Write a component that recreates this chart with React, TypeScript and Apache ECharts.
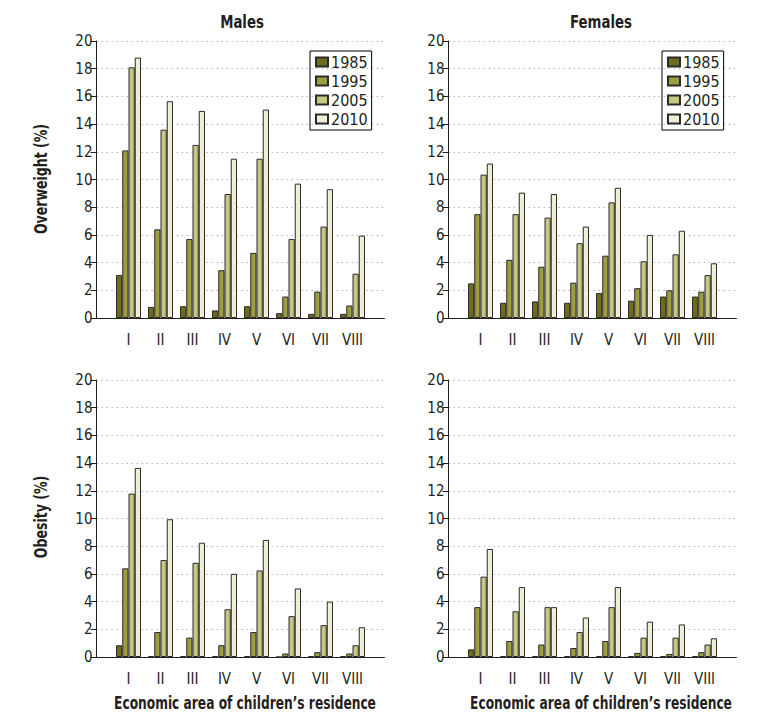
import React, { useEffect, useRef } from "react";
import * as echarts from "echarts";

const CATEGORIES = ["I", "II", "III", "IV", "V", "VI", "VII", "VIII"];
const YEARS = ["1985", "1995", "2005", "2010"];
const COLORS = ["#6d6c1e", "#9c9c40", "#c5c783", "#efefd8"];
const Y_TICKS_MAX = 20;
const Y_TICK_STEP = 2;

// Males, overweight (%)
const maleOverweight1985 = [3.1, 0.8, 0.85, 0.55, 0.85, 0.35, 0.3, 0.3];
const maleOverweight1995 = [12.1, 6.4, 5.7, 3.45, 4.7, 1.55, 1.9, 0.9];
const maleOverweight2005 = [18.1, 13.6, 12.5, 8.95, 11.5, 5.7, 6.6, 3.2];
const maleOverweight2010 = [18.8, 15.65, 14.95, 11.5, 15.05, 9.7, 9.3, 5.95];

// Females, overweight (%)
const femaleOverweight1985 = [2.5, 1.1, 1.2, 1.1, 1.8, 1.25, 1.55, 1.55];
const femaleOverweight1995 = [7.5, 4.2, 3.7, 2.55, 4.5, 2.15, 2.0, 1.9];
const femaleOverweight2005 = [10.35, 7.5, 7.25, 5.4, 8.35, 4.1, 4.6, 3.1];
const femaleOverweight2010 = [11.15, 9.05, 8.95, 6.6, 9.4, 6.0, 6.3, 3.95];

// Males, obesity (%)
const maleObesity1985 = [0.85, 0.07, 0.07, 0.07, 0.07, 0.0, 0.07, 0.07];
const maleObesity1995 = [6.4, 1.8, 1.4, 0.85, 1.8, 0.25, 0.35, 0.25];
const maleObesity2005 = [11.8, 7.0, 6.8, 3.45, 6.25, 2.95, 2.3, 0.85];
const maleObesity2010 = [13.65, 9.95, 8.25, 6.0, 8.45, 4.95, 4.0, 2.15];

// Females, obesity (%)
const femaleObesity1985 = [0.55, 0.07, 0.07, 0.07, 0.07, 0.07, 0.07, 0.07];
const femaleObesity1995 = [3.6, 1.15, 0.9, 0.65, 1.15, 0.3, 0.22, 0.35];
const femaleObesity2005 = [5.8, 3.3, 3.6, 1.8, 3.6, 1.4, 1.4, 0.9];
const femaleObesity2010 = [7.8, 5.05, 3.6, 2.85, 5.05, 2.55, 2.35, 1.35];

const PANELS = [
  [maleOverweight1985, maleOverweight1995, maleOverweight2005, maleOverweight2010],
  [femaleOverweight1985, femaleOverweight1995, femaleOverweight2005, femaleOverweight2010],
  [maleObesity1985, maleObesity1995, maleObesity2005, maleObesity2010],
  [femaleObesity1985, femaleObesity1995, femaleObesity2005, femaleObesity2010],
];

const FONT = "'Liberation Sans Narrow', 'DejaVu Sans Condensed', 'Arial Narrow', sans-serif";
const INK = "#231f20";

export default function App() {
  const ref = useRef<HTMLDivElement>(null);

  useEffect(() => {
    if (!ref.current) return;
    const chart = echarts.init(ref.current, null, { renderer: "svg" });

    const gridPos = [
      { left: 96.5, top: 41 },
      { left: 448.5, top: 41 },
      { left: 96.5, top: 380 },
      { left: 448.5, top: 380 },
    ];
    const grids = gridPos.map((g) => ({ ...g, width: 288, height: 277, containLabel: false }));
    const axisCats = ["", ...CATEGORIES, ""];

    const xAxes = gridPos.map((_, i) => ({
      type: "category",
      gridIndex: i,
      data: axisCats,
      boundaryGap: false,
      axisLine: { show: true, lineStyle: { color: INK, width: 1 } },
      axisTick: { show: false },
      axisLabel: { interval: 0, color: INK, fontSize: 15, fontFamily: FONT, margin: 14 },
      splitLine: { show: false },
    }));
    const yAxes = gridPos.map((_, i) => ({
      type: "value",
      gridIndex: i,
      min: 0,
      max: Y_TICKS_MAX,
      interval: Y_TICK_STEP,
      axisLine: { show: true, lineStyle: { color: INK, width: 1 } },
      axisTick: { show: true, length: 6, lineStyle: { color: INK } },
      axisLabel: { color: INK, fontSize: 15, fontFamily: FONT, margin: 4 },
      splitLine: { show: true, lineStyle: { type: [1.5, 3.5], color: "#b5b5b5", width: 1.2 } },
    }));

    const series: any[] = [];
    PANELS.forEach((panel, p) => {
      panel.forEach((vals, y) => {
        series.push({
          type: "bar",
          name: YEARS[y],
          xAxisIndex: p,
          yAxisIndex: p,
          data: [null, ...vals, null],
          barWidth: 6.25,
          barGap: "0%",
          itemStyle: { color: COLORS[y], borderColor: "#2a2a2a", borderWidth: 1 },
          emphasis: { disabled: true },
        });
      });
    });

    const legendBase = {
      orient: "vertical",
      data: YEARS,
      icon: "rect",
      itemWidth: 12,
      itemHeight: 9,
      itemGap: 3,
      borderColor: "#000",
      borderWidth: 1,
      padding: [3, 4, 3, 5],
      selectedMode: false,
      textStyle: { fontSize: 16, fontFamily: FONT, color: INK, lineHeight: 16, padding: [0, 0, 0, -2] },
    };

    const titleStyle = { fill: INK, fontSize: 17, fontWeight: "bold", fontFamily: FONT, align: "center", verticalAlign: "middle" };

    chart.setOption({
      animation: false,
      grid: grids,
      xAxis: xAxes,
      yAxis: yAxes,
      series,
      legend: [
        { ...legendBase, left: 310, top: 51 },
        { ...legendBase, left: 662, top: 51 },
      ],
      graphic: [
        { type: "text", x: 242, y: 22, scaleX: 0.87, style: { ...titleStyle, text: "Males" } },
        { type: "text", x: 601, y: 22, scaleX: 0.87, style: { ...titleStyle, text: "Females" } },
        { type: "text", x: 42, y: 179, rotation: Math.PI / 2, scaleX: 0.82, style: { ...titleStyle, text: "Overweight (%)" } },
        { type: "text", x: 42, y: 517, rotation: Math.PI / 2, scaleX: 0.82, style: { ...titleStyle, text: "Obesity (%)" } },
        { type: "text", x: 245, y: 703, scaleX: 0.8, style: { ...titleStyle, text: "Economic area of children\u2019s residence" } },
        { type: "text", x: 601, y: 703, scaleX: 0.8, style: { ...titleStyle, text: "Economic area of children\u2019s residence" } },
      ],
    });

    return () => chart.dispose();
  }, []);

  return (
    <div
      ref={ref}
      style={{ position: "fixed", left: 0, top: 0, width: 771, height: 722, background: "#fff" }}
    />
  );
}
